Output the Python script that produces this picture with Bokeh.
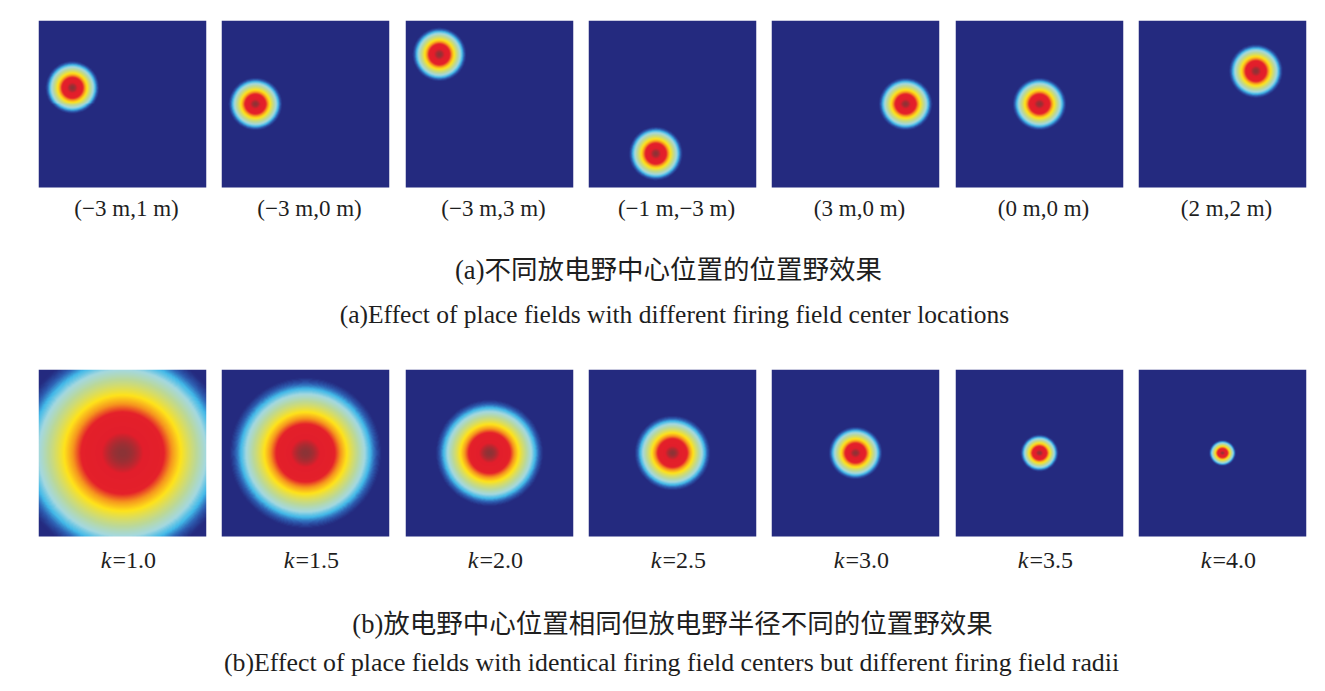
import numpy as np
from bokeh.plotting import figure
from bokeh.layouts import row, column
from bokeh.models import Range1d, Label, LinearColorMapper
from bokeh.embed import file_html
from bokeh.resources import INLINE

# ---------------- data ----------------
arena_min, arena_max = -5.0, 5.0
centers_x = [-3, -3, -3, -1, 3, 0, 2]
centers_y = [1, 0, 3, -3, 0, 0, 2]
center_labels = ["(\u22123 m,1 m)", "(\u22123 m,0 m)", "(\u22123 m,3 m)", "(\u22121 m,\u22123 m)",
                 "(3 m,0 m)", "(0 m,0 m)", "(2 m,2 m)"]
k_row_a = 3.0
k_values = [1.0, 1.5, 2.0, 2.5, 3.0, 3.5, 4.0]
k_texts = ["=1.0", "=1.5", "=2.0", "=2.5", "=3.0", "=3.5", "=4.0"]
field_extent = 12.0  # field radius (m) = field_extent * 2**(-k)

cap_a_zh = "(a)不同放电野中心位置的位置野效果"
cap_a_en = "(a)Effect of place fields with different firing field center locations"
cap_b_zh = "(b)放电野中心位置相同但放电野半径不同的位置野效果"
cap_b_en = "(b)Effect of place fields with identical firing field centers but different firing field radii"

# colour map stops (value, colour)
stops = [(0.00, "#242A7F"), (0.03, "#242A7F"), (0.052, "#2D5CB0"), (0.079, "#41B8E8"),
         (0.12, "#A4D8E0"), (0.19, "#BAD89C"), (0.36, "#FFE31A"), (0.48, "#F6951E"),
         (0.60, "#E4202A"), (0.88, "#E21E2B"), (1.00, "#8C3336")]

def hex2rgb(h):
    return np.array([int(h[i:i + 2], 16) for i in (1, 3, 5)], dtype=float)

sv = np.array([s[0] for s in stops])
sc = np.array([hex2rgb(s[1]) for s in stops])
tt = np.linspace(0, 1, 256)
palette = []
for t in tt:
    rgb = [np.interp(t, sv, sc[:, j]) for j in range(3)]
    palette.append("#%02x%02x%02x" % tuple(int(round(c)) for c in rgb))
mapper = LinearColorMapper(palette=palette, low=0.0, high=1.0)

N = 168
g = np.linspace(arena_min, arena_max, N)
GX, GY = np.meshgrid(g, g)

def field(cx, cy, k):
    R = field_extent * 2.0 ** (-k)
    d2 = (GX - cx) ** 2 + (GY - cy) ** 2
    return np.exp(-3.0 * d2 / R ** 2)

SERIF = "Liberation Serif"
CJK = "Liberation Serif, Noto Sans CJK SC"
TXT = "#1e1e1e"

# ---------------- layout ----------------
FW, FH = 168, 167
LABEL_H = 40
frame_x = [38, 221, 405, 588, 771, 955, 1138]
TOTAL_W = 1314
starts = [0] + [fx - 8 for fx in frame_x[1:]]
ends = starts[1:] + [TOTAL_W]
px = (arena_max - arena_min) / FH

def panel(i, img, top):
    w = ends[i] - starts[i]
    bl = frame_x[i] - starts[i]
    br = w - bl - FW
    p = figure(width=w, height=top + FH + LABEL_H, title=None,
               x_range=Range1d(arena_min, arena_max),
               y_range=Range1d(arena_min - LABEL_H * px, arena_max),
               min_border_left=bl, min_border_right=br, min_border_top=top, min_border_bottom=0,
               x_axis_location=None, y_axis_location=None, toolbar_location=None,
               output_backend="svg", outline_line_color=None)
    p.grid.visible = False
    p.image(image=[img], x=arena_min, y=arena_min, dw=arena_max - arena_min,
            dh=arena_max - arena_min, color_mapper=mapper)
    return p

row_a = []
for i in range(7):
    p = panel(i, field(centers_x[i], centers_y[i], k_row_a), 20)
    p.add_layout(Label(x=4 * px, y=arena_min - 20.5 * px, text=center_labels[i],
                       text_font=SERIF, text_font_size="23px", text_color=TXT,
                       text_align="center", text_baseline="middle"))
    row_a.append(p)

row_b = []
for i in range(7):
    p = panel(i, field(0.0, 0.0, k_values[i]), 8)
    ly = arena_min - 23 * px
    p.add_layout(Label(x=-11 * px, y=ly, text="k", text_font=SERIF, text_font_style="italic",
                       text_font_size="24px", text_color=TXT,
                       text_align="right", text_baseline="middle"))
    p.add_layout(Label(x=-10 * px, y=ly, text=k_texts[i], text_font=SERIF,
                       text_font_size="24px", text_color=TXT,
                       text_align="left", text_baseline="middle"))
    row_b.append(p)

def caption_fig(h, items):
    c = figure(width=TOTAL_W, height=h, title=None, x_range=Range1d(0, TOTAL_W), y_range=Range1d(h, 0),
               min_border_left=0, min_border_right=0, min_border_top=0, min_border_bottom=0,
               x_axis_location=None, y_axis_location=None, toolbar_location=None,
               output_backend="svg", outline_line_color=None)
    c.grid.visible = False
    for (x, y, text, font, size) in items:
        c.add_layout(Label(x=x, y=y, text=text, text_font=font, text_font_size=size,
                           text_color=TXT, text_align="center", text_baseline="middle"))
    return c

cap_a = caption_fig(134, [(668, 42, cap_a_zh, CJK, "26.5px"), (674, 87, cap_a_en, SERIF, "25.5px")])
cap_b = caption_fig(103, [(672, 47, cap_b_zh, CJK, "26.5px"), (671, 86, cap_b_en, SERIF, "25.8px")])

layout = column(row(*row_a), cap_a, row(*row_b), cap_b)

open("out.html", "w").write(file_html(layout, INLINE))
